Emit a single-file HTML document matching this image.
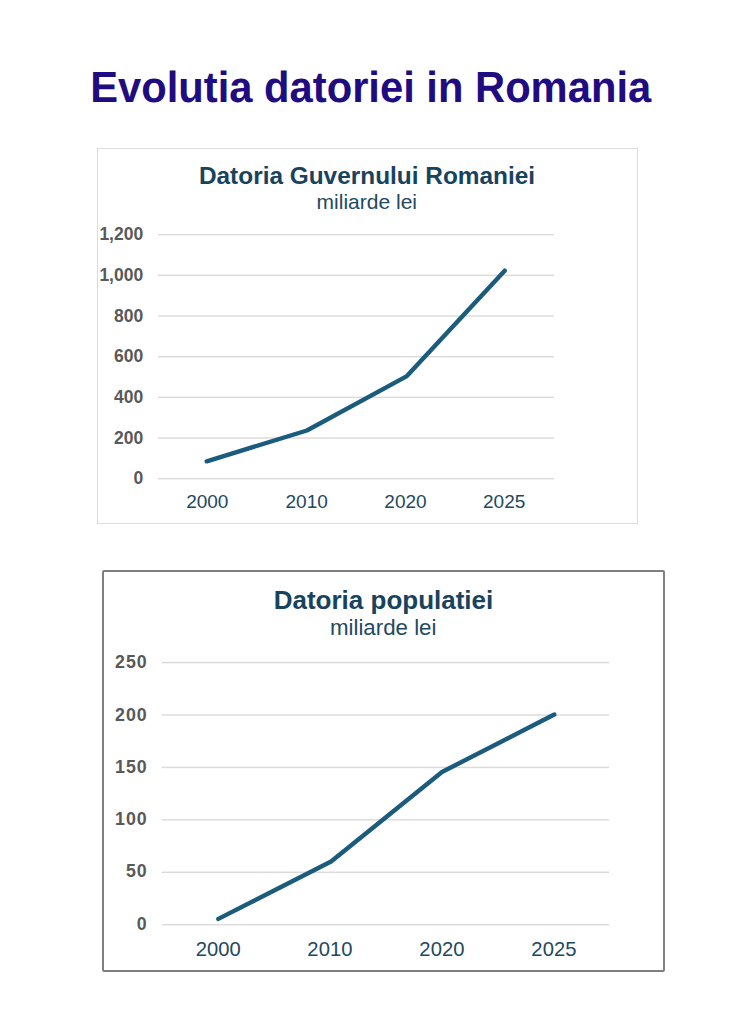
<!DOCTYPE html>
<html><head><meta charset="utf-8"><style>
html,body{margin:0;padding:0;background:#fff;width:745px;height:1024px;overflow:hidden}
svg{display:block}
text{font-family:"Liberation Sans",sans-serif}
.title{text-rendering:geometricPrecision;font-weight:bold;font-size:43.5px;fill:#200c80}
.t1{font-weight:bold;font-size:24.4px;fill:#18435e}
.s1{font-size:21px;fill:#224a60}
.y1{font-weight:bold;font-size:17.5px;fill:#595959}
.x1{font-size:19px;fill:#22485e}
.t2{font-weight:bold;font-size:26px;fill:#18435e}
.s2{font-size:22.3px;fill:#224a60}
.y2{font-weight:bold;font-size:17.8px;fill:#595959}
.x2{font-size:20.2px;fill:#22485e}
</style></head><body>
<svg width="745" height="1024" viewBox="0 0 745 1024">
<g transform="translate(370.7,0) scale(0.959,1)"><text x="0" y="102" text-anchor="middle" class="title">Evolutia datoriei in Romania</text></g>
<rect x="97.5" y="148.5" width="540" height="375" fill="#fff" stroke="#dcdcdc" stroke-width="1"/>
<text x="367" y="183.9" text-anchor="middle" class="t1">Datoria Guvernului Romaniei</text>
<text x="366.8" y="208.6" text-anchor="middle" class="s1">miliarde lei</text>
<rect x="158" y="233.96" width="396" height="1.4" fill="#dadada"/>
<text x="143.2" y="240.36" text-anchor="end" class="y1">1,200</text>
<rect x="158" y="274.64" width="396" height="1.4" fill="#dadada"/>
<text x="143.2" y="281.04" text-anchor="end" class="y1">1,000</text>
<rect x="158" y="315.32" width="396" height="1.4" fill="#dadada"/>
<text x="143.2" y="321.72" text-anchor="end" class="y1">800</text>
<rect x="158" y="356.00" width="396" height="1.4" fill="#dadada"/>
<text x="143.2" y="362.4" text-anchor="end" class="y1">600</text>
<rect x="158" y="396.68" width="396" height="1.4" fill="#dadada"/>
<text x="143.2" y="403.08" text-anchor="end" class="y1">400</text>
<rect x="158" y="437.36" width="396" height="1.4" fill="#dadada"/>
<text x="143.2" y="443.76" text-anchor="end" class="y1">200</text>
<rect x="158" y="478.04" width="396" height="1.4" fill="#dadada"/>
<text x="143.2" y="484.44" text-anchor="end" class="y1">0</text>
<text x="207.3" y="508.3" text-anchor="middle" class="x1">2000</text>
<text x="306.7" y="508.3" text-anchor="middle" class="x1">2010</text>
<text x="405.5" y="508.3" text-anchor="middle" class="x1">2020</text>
<text x="504.2" y="508.3" text-anchor="middle" class="x1">2025</text>
<polyline points="206.7,461.3 306.9,430.5 406.9,376.1 504.7,270.7" fill="none" stroke="#1b5b7c" stroke-width="4.4" stroke-linecap="round" stroke-linejoin="round"/>
<rect x="103" y="571" width="561" height="400" fill="#fff" stroke="#7f7f7f" stroke-width="2" rx="1"/>
<text x="383.5" y="608.5" text-anchor="middle" class="t2">Datoria populatiei</text>
<text x="383.2" y="634.6" text-anchor="middle" class="s2">miliarde lei</text>
<rect x="161.7" y="661.90" width="447.3" height="1.4" fill="#dadada"/>
<text x="147.7" y="668.47" text-anchor="end" class="y2" letter-spacing="1">250</text>
<rect x="161.7" y="714.32" width="447.3" height="1.4" fill="#dadada"/>
<text x="147.7" y="720.69" text-anchor="end" class="y2" letter-spacing="1">200</text>
<rect x="161.7" y="766.74" width="447.3" height="1.4" fill="#dadada"/>
<text x="147.7" y="772.91" text-anchor="end" class="y2" letter-spacing="1">150</text>
<rect x="161.7" y="819.16" width="447.3" height="1.4" fill="#dadada"/>
<text x="147.7" y="825.13" text-anchor="end" class="y2" letter-spacing="1">100</text>
<rect x="161.7" y="871.58" width="447.3" height="1.4" fill="#dadada"/>
<text x="147.7" y="877.35" text-anchor="end" class="y2" letter-spacing="1">50</text>
<rect x="161.7" y="924.00" width="447.3" height="1.4" fill="#dadada"/>
<text x="147.7" y="929.57" text-anchor="end" class="y2" letter-spacing="1">0</text>
<text x="218.3" y="955.8" text-anchor="middle" class="x2" letter-spacing="0.1">2000</text>
<text x="330" y="955.8" text-anchor="middle" class="x2" letter-spacing="0.1">2010</text>
<text x="442" y="955.8" text-anchor="middle" class="x2" letter-spacing="0.1">2020</text>
<text x="554" y="955.8" text-anchor="middle" class="x2" letter-spacing="0.1">2025</text>
<polyline points="218.3,918.9 331.1,861.5 442,772 554.3,714.5" fill="none" stroke="#1b5b7c" stroke-width="4.4" stroke-linecap="round" stroke-linejoin="round"/>
</svg>
</body></html>
